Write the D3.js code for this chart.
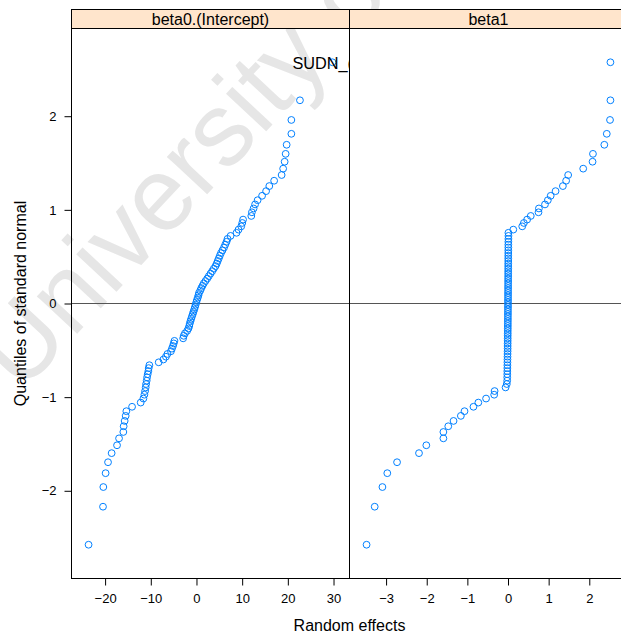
<!DOCTYPE html>
<html>
<head>
<meta charset="utf-8">
<script src="https://cdn.jsdelivr.net/npm/d3@7"></script>
<style>
  body { margin: 0; background: #fff; }
  text { font-family: "Liberation Sans", Arial, Helvetica, sans-serif; }
</style>
</head>
<body>
<svg id="chart" width="621" height="637"></svg>
<script>
// Panel names (lattice strips)
const panelNames = ["beta0.(Intercept)", "beta1"];

// Standard normal quantiles of ppoints(100)
const normalQuantiles = [
  -2.576, -2.170, -1.960, -1.812, -1.695, -1.598, -1.514, -1.440, -1.372, -1.311,
  -1.254, -1.200, -1.150, -1.103, -1.058, -1.015, -0.974, -0.935, -0.896, -0.860,
  -0.824, -0.789, -0.755, -0.722, -0.690, -0.659, -0.628, -0.598, -0.568, -0.539,
  -0.510, -0.482, -0.454, -0.426, -0.399, -0.372, -0.345, -0.319, -0.292, -0.266,
  -0.240, -0.215, -0.189, -0.164, -0.138, -0.113, -0.088, -0.063, -0.038, -0.013,
   0.013,  0.038,  0.063,  0.088,  0.113,  0.138,  0.164,  0.189,  0.215,  0.240,
   0.266,  0.292,  0.319,  0.345,  0.372,  0.399,  0.426,  0.454,  0.482,  0.510,
   0.539,  0.568,  0.598,  0.628,  0.659,  0.690,  0.722,  0.755,  0.789,  0.824,
   0.860,  0.896,  0.935,  0.974,  1.015,  1.058,  1.103,  1.150,  1.200,  1.254,
   1.311,  1.372,  1.440,  1.514,  1.598,  1.695,  1.812,  1.960,  2.170,  2.576
];

// Sorted random intercepts
const interceptEffects = [
  -23.62, -20.46, -20.39, -19.89, -19.36, -18.57, -17.39, -16.95, -16.01, -15.94,
  -15.72, -15.50, -15.35, -14.10, -12.21, -11.62, -11.40, -11.25, -11.12, -11.03,
  -10.90, -10.81, -10.68, -10.53, -10.46, -10.31,  -8.27,  -7.24,  -6.69,  -6.36,
   -5.59,  -5.37,  -5.15,  -4.98,  -4.82,  -2.92,  -2.79,  -2.52,  -2.04,  -1.75,
   -1.58,  -1.47,  -1.32,  -1.16,  -0.99,  -0.81,  -0.66,  -0.48,  -0.33,  -0.18,
   -0.04,   0.11,   0.29,   0.44,   0.55,   0.83,   1.05,   1.32,   1.60,   1.97,
    2.35,   2.70,   3.07,   3.44,   3.79,   4.17,   4.43,   4.65,   4.89,   5.11,
    5.37,   5.70,   6.03,   6.29,   6.58,   6.80,   7.46,   8.77,   9.21,   9.80,
   10.02,  10.20,  12.00,  12.13,  12.50,  12.83,  13.38,  14.36,  15.24,  15.94,
   17.00,  18.64,  18.97,  19.30,  19.52,  19.74,  20.77,  20.77,  22.65,  29.76
];

// Sorted random slopes
const slopeEffects = [
  -3.48, -3.28, -3.09, -2.97, -2.73, -2.19, -2.01, -1.59, -1.59, -1.47,
  -1.34, -1.16, -1.07, -0.85, -0.73, -0.54, -0.34, -0.33, -0.06, -0.03,
  -0.020, -0.019, -0.018, -0.017, -0.016, -0.015, -0.014, -0.013, -0.012, -0.011,
  -0.010, -0.009, -0.009, -0.008, -0.008, -0.007, -0.007, -0.006, -0.006, -0.005,
  -0.005, -0.004, -0.004, -0.003, -0.003, -0.002, -0.002, -0.001, -0.001, 0.000,
   0.000, 0.000, 0.001, 0.001, 0.001, 0.002, 0.002, 0.002, 0.003, 0.003,
   0.003, 0.004, 0.004, 0.004, 0.005, 0.005, 0.005, 0.006, 0.006, 0.006,
   0.007, 0.007, 0.008, 0.008, 0.009, 0.010, 0.011, 0.01, 0.13, 0.35,
   0.39, 0.47, 0.56, 0.75, 0.76, 0.91, 0.98, 1.05, 1.17, 1.35,
   1.43, 1.48, 1.85, 2.08, 2.09, 2.37, 2.43, 2.51, 2.52, 2.52
];

// Axis ticks
const interceptTicks = [-20, -10, 0, 10, 20, 30];
const slopeTicks = [-3, -2, -1, 0, 1, 2];
const quantileTicks = [-2, -1, 0, 1, 2];

// Label of the largest intercept
const outlierLabel = "SUDN_(Intercept)";

const xTitle = "Random effects";
const yTitle = "Quantiles of standard normal";
const watermark = "University of";

// ---------------------------------------------------------------
const svg = d3.select("#chart");

const panelTop = 28.5, panelBottom = 578.5, stripTop = 9.5;
const panelW = 278;
const panelLeft = [71.5, 71.5 + panelW];
const fmt = d3.format("d");

// lattice-style padded extent
function padded(vals, f = 0.07) {
  const [a, b] = d3.extent(vals);
  const p = (b - a) * f;
  return [a - p, b + p];
}

const y = d3.scaleLinear().domain(padded(normalQuantiles)).range([panelBottom, panelTop]);

const panels = [
  { name: panelNames[0], values: interceptEffects, ticks: interceptTicks },
  { name: panelNames[1], values: slopeEffects, ticks: slopeTicks }
];
panels.forEach((p, k) => {
  p.left = panelLeft[k];
  p.x = d3.scaleLinear().domain(padded(p.values)).range([p.left, p.left + panelW]);
});

// watermark underlay
svg.append("text")
  .attr("transform", "translate(21,394) rotate(-47)")
  .attr("font-size", 104)
  .attr("fill", "#e6e6e6")
  .text(watermark);

const defs = svg.append("defs");

panels.forEach((p, k) => {
  const g = svg.append("g");
  defs.append("clipPath").attr("id", "clip" + k)
    .append("rect").attr("x", p.left).attr("y", panelTop)
    .attr("width", panelW).attr("height", panelBottom - panelTop);

  const body = g.append("g").attr("clip-path", `url(#clip${k})`);

  // zero reference line
  body.append("line")
    .attr("x1", p.left).attr("x2", p.left + panelW)
    .attr("y1", y(0)).attr("y2", y(0))
    .attr("stroke", "#555").attr("stroke-width", 1.1);

  body.selectAll("circle").data(p.values).enter().append("circle")
    .attr("cx", d => p.x(d))
    .attr("cy", (d, i) => y(normalQuantiles[i]))
    .attr("r", 3.4)
    .attr("fill", "none")
    .attr("stroke", "#0080ff")
    .attr("stroke-width", 1);

  if (k === 0) {
    const n = p.values.length - 1;
    body.append("text")
      .attr("x", p.x(p.values[n]) - 40)
      .attr("y", y(normalQuantiles[n]) + 7)
      .attr("font-size", 16.3)
      .attr("fill", "#000")
      .text(outlierLabel);
  }

  // strip
  g.append("rect").attr("x", p.left).attr("y", stripTop)
    .attr("width", panelW).attr("height", panelTop - stripTop)
    .attr("fill", "#ffe5cc").attr("stroke", "#000").attr("stroke-width", 1);
  g.append("text")
    .attr("x", p.left + panelW / 2).attr("y", stripTop + 15.3)
    .attr("text-anchor", "middle").attr("font-size", 16)
    .text(p.name);

  // panel border
  g.append("rect").attr("x", p.left).attr("y", panelTop)
    .attr("width", panelW).attr("height", panelBottom - panelTop)
    .attr("fill", "none").attr("stroke", "#000").attr("stroke-width", 1);

  // bottom axis
  const ax = g.append("g").attr("transform", `translate(0,${panelBottom})`)
    .call(d3.axisBottom(p.x).tickValues(p.ticks).tickFormat(fmt).tickSize(7).tickPadding(8));
  ax.select(".domain").remove();
  ax.selectAll("text").attr("font-size", 13).attr("font-family", null).attr("fill", "#000");
  ax.selectAll("line").attr("stroke", "#000");
});

// left axis
const ay = svg.append("g").attr("transform", `translate(${panelLeft[0]},0)`)
  .call(d3.axisLeft(y).tickValues(quantileTicks).tickFormat(fmt).tickSize(7).tickPadding(8));
ay.select(".domain").remove();
ay.selectAll("text").attr("font-size", 13).attr("font-family", null).attr("fill", "#000");
ay.selectAll("line").attr("stroke", "#000");

// titles
svg.append("text")
  .attr("x", panelLeft[0] + panelW).attr("y", 631)
  .attr("text-anchor", "middle").attr("font-size", 16)
  .text(xTitle);
svg.append("text")
  .attr("transform", `translate(26,${(panelTop + panelBottom) / 2}) rotate(-90)`)
  .attr("text-anchor", "middle").attr("font-size", 16)
  .text(yTitle);
</script>
</body>
</html>
